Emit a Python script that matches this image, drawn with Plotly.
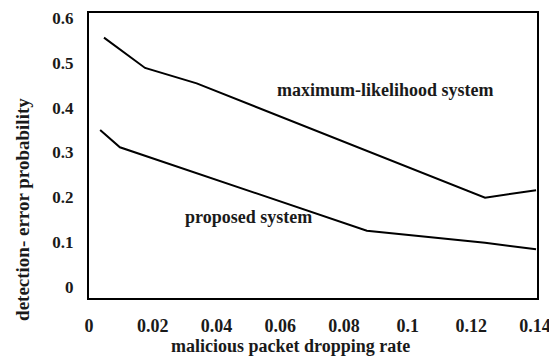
import plotly.graph_objects as go

# data
ml_x = [0.0047, 0.0176, 0.0338, 0.1243, 0.1403]
ml_y = [0.556, 0.4885, 0.454, 0.199, 0.216]
prop_x = [0.0035, 0.0097, 0.0872, 0.1243, 0.1403]
prop_y = [0.350, 0.3116, 0.1256, 0.0989, 0.084]

x_ticks = [0, 0.02, 0.04, 0.06, 0.08, 0.1, 0.12, 0.14]
x_tick_text = ["0", "0.02", "0.04", "0.06", "0.08", "0.1", "0.12", "0.14"]
y_ticks = [0, 0.1, 0.2, 0.3, 0.4, 0.5, 0.6]
y_tick_text = ["0", "0.1", "0.2", "0.3", "0.4", "0.5", "0.6"]

FONT = "Times New Roman, Liberation Serif, DejaVu Serif, serif"
TXT = "#1a1a1a"

fig = go.Figure()
fig.add_trace(go.Scatter(x=ml_x, y=ml_y, mode="lines",
                         line=dict(color="black", width=2), showlegend=False))
fig.add_trace(go.Scatter(x=prop_x, y=prop_y, mode="lines",
                         line=dict(color="black", width=2), showlegend=False))

fig.add_annotation(x=0.093, y=0.44, text="<b>maximum-likelihood system</b>",
                   showarrow=False, font=dict(family=FONT, size=18, color=TXT))
fig.add_annotation(x=0.050, y=0.156, text="<b>proposed system</b>",
                   showarrow=False, font=dict(family=FONT, size=18, color=TXT))

# axis titles
fig.add_annotation(xref="paper", yref="paper", x=0.449, y=0,
                   xanchor="center", yanchor="middle",
                   yshift=-48, text="<b>malicious packet dropping rate</b>",
                   showarrow=False, font=dict(family=FONT, size=18, color=TXT))
fig.add_annotation(xref="paper", yref="paper", x=0, y=0.309,
                   xanchor="center", yanchor="middle",
                   xshift=-66, textangle=-90,
                   text="<b>detection- error probability</b>",
                   showarrow=False, font=dict(family=FONT, size=19, color=TXT))

fig.update_layout(
    width=549, height=352,
    margin=dict(l=81, r=20, t=5, b=62, autoexpand=False),
    paper_bgcolor="white", plot_bgcolor="white",
    font=dict(family=FONT, size=16, color=TXT),
)
fig.update_xaxes(
    range=[0, 0.1406], tickvals=x_ticks,
    ticktext=["<b>%s</b>" % t for t in x_tick_text],
    showgrid=False, zeroline=False, showline=True, mirror=True,
    linecolor="black", linewidth=2, ticks="", ticklabelstandoff=10,
    automargin=False,
    tickfont=dict(family=FONT, size=18, color=TXT),
)
fig.update_yaxes(
    range=[-0.0245, 0.611], tickvals=y_ticks,
    ticktext=["<b>%s</b>" % t for t in y_tick_text],
    showgrid=False, zeroline=False, showline=True, mirror=True,
    linecolor="black", linewidth=2, ticks="", ticklabelstandoff=10,
    automargin=False,
    tickfont=dict(family=FONT, size=17, color=TXT),
)

fig.write_html("out.html")
